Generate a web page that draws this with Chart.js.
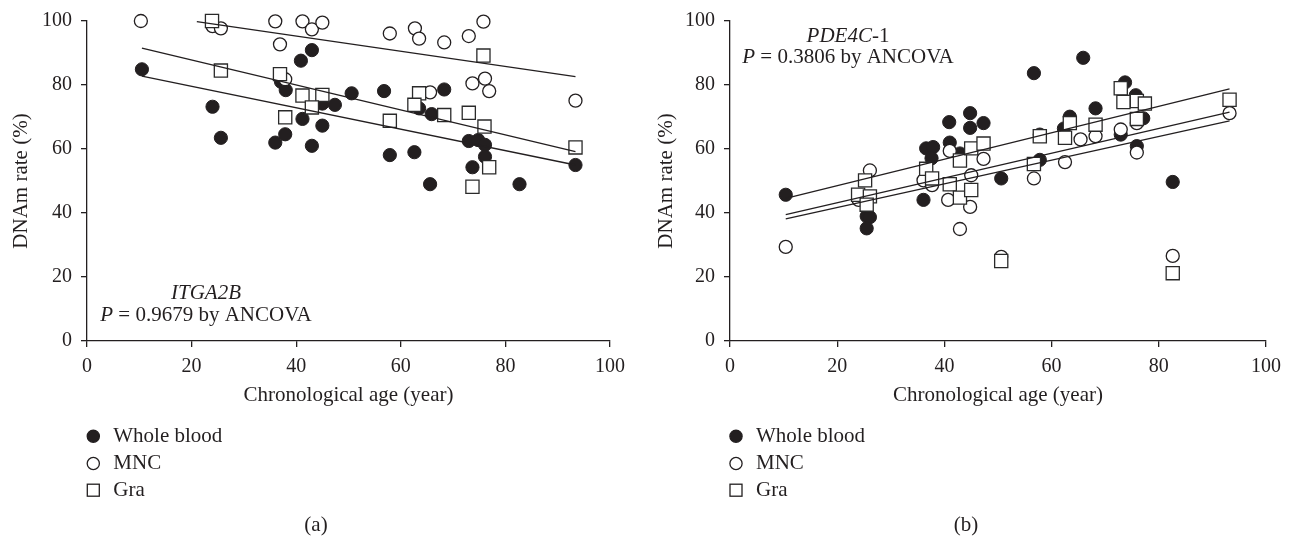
<!DOCTYPE html>
<html>
<head>
<meta charset="utf-8">
<script src="https://cdn.jsdelivr.net/npm/chart.js@4"></script>
<style>
  html, body { margin: 0; padding: 0; background: #fff; }
  #wrap { position: relative; width: 1289px; height: 541px; }
  .panel { position: absolute; top: 0; height: 541px; }
</style>
</head>
<body>
<div id="wrap">
  <div class="panel" style="left:0;width:645px"><canvas id="chartA" width="645" height="541"></canvas></div>
  <div class="panel" style="left:645px;width:644px"><canvas id="chartB" width="644" height="541"></canvas></div>
</div>
<script>
// (a) ITGA2B  -- [age, DNAm %]
const wholeBloodA = [[10.5,84.9],[24,73.2],[25.6,63.5],[36,62],[37.1,81],[38,78.4],[37.9,64.6],[40.9,87.6],[43,90.9],[41.2,69.4],[43,61],[45,67.3],[45,74.2],[47.4,73.8],[50.6,77.4],[56.8,78.1],[57.9,58.1],[62.6,59],[63.5,72.7],[65.9,70.9],[68.3,78.6],[65.6,49],[73,62.5],[74.8,62.8],[76.1,61.3],[76.1,57.6],[73.7,54.3],[82.7,49],[93.4,55]];
const mncA = [[10.3,100],[24,98.4],[25.6,97.7],[36,99.9],[36.9,92.7],[37.9,81.8],[41.2,99.9],[43,97.4],[45,99.5],[57.9,96.1],[62.7,97.7],[63.5,94.5],[65.6,77.7],[68.3,93.3],[73,95.3],[75.8,99.8],[73.7,80.5],[76.1,82],[76.9,78.1],[93.4,75.1]];
const graA = [[23.9,100],[25.6,84.5],[36.9,83.4],[37.9,69.9],[41.2,76.7],[45,76.9],[43,73],[57.9,68.8],[63.5,77.4],[62.6,73.8],[68.3,70.6],[75.8,89.2],[73,71.3],[76,67],[76.9,54.3],[73.7,48.2],[93.4,60.5]];
const fitWholeBloodA = [[10.5,82.8],[93.4,55]];
const fitMncA = [[21,99.8],[93.4,82.6]];
const fitGraA = [[10.5,91.5],[93.4,59.2]];

// (b) PDE4C-1
const wholeBloodB = [[10.4,45.7],[25.5,39],[26.1,38.7],[25.5,35.2],[36.1,44.1],[36.6,60.2],[37.9,60.6],[37.6,57.1],[40.9,68.4],[41,62],[42.9,58.6],[44.8,71.2],[44.8,66.6],[47.3,68.1],[50.6,50.8],[56.7,83.7],[57.8,64.5],[57.8,56.6],[63.4,70.1],[62.3,66.4],[68.2,72.7],[65.9,88.5],[73.7,80.8],[75.7,76.8],[77.1,69.6],[72.9,64.5],[75.9,60.9],[82.6,49.7]];
const mncB = [[10.4,29.4],[24,44.1],[26.1,53.3],[36.1,50.2],[37.7,48.7],[41,59.4],[40.7,44.1],[42.9,35],[44.8,41.9],[47.3,56.9],[45,51.8],[56.7,50.8],[62.5,55.9],[65.4,63],[68.2,64],[72.9,66.1],[75.9,68.1],[75.9,58.9],[50.6,26.3],[82.6,26.6],[93.2,71.2]];
const graB = [[23.9,45.7],[26.1,45.2],[25.5,42.6],[25.2,50.2],[36.6,53.8],[37.7,50.8],[42.9,56.4],[41,49],[42.9,44.8],[45,60.2],[47.3,61.7],[45,47.2],[57.8,64],[56.7,55.3],[63.4,68.1],[62.5,63.5],[68.2,67.6],[50.6,25],[72.9,79],[75.9,75],[73.4,74.7],[77.4,74.2],[75.9,69.4],[82.6,21.2],[93.2,75.4]];
const fitWholeBloodB = [[10.4,44.6],[93.2,78.8]];
const fitGraB = [[10.4,39.5],[93.2,71.5]];
const fitMncB = [[10.4,38.2],[93.2,68.8]];

const seriesNames = ['Whole blood', 'MNC', 'Gra'];
const xTitle = 'Chronological age (year)';
const yTitle = 'DNAm rate (%)';

const INK = '#231f20';
const FONT = '"Liberation Serif", "Times New Roman", serif';
const TXT = 21;
Chart.defaults.font.family = FONT;
Chart.defaults.font.size = 20;
Chart.defaults.color = INK;

const pts = arr => arr.map(([x, y]) => ({ x, y }));

const styles = [
  { pointStyle: 'circle', pointRadius: 6.6, backgroundColor: INK, borderColor: INK, borderWidth: 1 },
  { pointStyle: 'circle', pointRadius: 6.5, backgroundColor: '#fff', borderColor: INK, borderWidth: 1.3 },
  { pointStyle: 'rect', pointRadius: 9.3, backgroundColor: '#fff', borderColor: '#2a2a2a', borderWidth: 1.3 }
];

function drawMarker(ctx, kind, x, y) {
  ctx.save();
  ctx.strokeStyle = INK;
  ctx.lineWidth = 1.3;
  if (kind === 0 || kind === 1) {
    ctx.beginPath();
    ctx.arc(x, y, 6.1, 0, Math.PI * 2);
    ctx.fillStyle = kind === 0 ? INK : '#fff';
    ctx.fill();
    ctx.stroke();
  } else {
    ctx.fillStyle = '#fff';
    ctx.fillRect(x - 6, y - 6, 12, 12);
    ctx.strokeRect(x - 6, y - 6, 12, 12);
  }
  ctx.restore();
}

function drawRich(ctx, parts, cx, baseline) {
  let w = 0;
  parts.forEach(p => {
    ctx.font = (p.it ? 'italic ' : '') + TXT + 'px ' + FONT;
    p.w = ctx.measureText(p.t).width;
    w += p.w;
  });
  let x = cx - w / 2;
  parts.forEach(p => {
    ctx.font = (p.it ? 'italic ' : '') + TXT + 'px ' + FONT;
    ctx.fillText(p.t, x, baseline);
    x += p.w;
  });
}

const extras = {
  id: 'extras',
  afterDraw(chart, args, opts) {
    const ctx = chart.ctx;
    ctx.save();
    ctx.fillStyle = INK;
    ctx.textAlign = 'left';
    ctx.textBaseline = 'alphabetic';
    opts.notes.forEach(n => drawRich(ctx, n.parts, n.x, n.y));
    // legend
    seriesNames.forEach((name, i) => {
      drawMarker(ctx, i, opts.legendX, opts.legendY[i] - 5.5);
      ctx.font = TXT + 'px ' + FONT;
      ctx.fillText(name, opts.legendX + 20, opts.legendY[i]);
    });
    ctx.textAlign = 'center';
    ctx.fillText(opts.caption, opts.captionX, 531);
    ctx.restore();
  }
};

function makePanel(id, data, fits, p) {
  const datasets = [];
  fits.forEach(f => datasets.push({
    data: pts(f), showLine: true, pointRadius: 0, borderColor: INK, borderWidth: 1.3, order: 0, clip: false
  }));
  // draw order: squares on top, then open circles, then filled
  data.forEach((d, i) => datasets.push(Object.assign({
    label: seriesNames[i], data: pts(d), order: 3 - i, clip: false
  }, styles[i])));

  const axisCommon = {
    type: 'linear', min: 0, max: 100,
    border: { display: true, color: INK, width: 1.3 },
    grid: { drawOnChartArea: false, drawTicks: true, tickLength: 6, color: INK, lineWidth: 1.3 }
  };

  new Chart(document.getElementById(id), {
    type: 'scatter',
    data: { datasets },
    options: {
      responsive: false,
      animation: false,
      events: [],
      layout: { autoPadding: false, padding: { left: 0, top: p.top, right: p.right, bottom: 129 } },
      plugins: {
        legend: { display: false },
        tooltip: { enabled: false },
        extras: { notes: p.notes, legendX: p.legendX, legendY: [441.7, 469, 495.7], caption: p.caption, captionX: p.captionX }
      },
      scales: {
        x: Object.assign({}, axisCommon, {
          ticks: { stepSize: 20, padding: 8, maxRotation: 0 },
          title: { display: true, text: xTitle, font: { size: TXT }, padding: { top: 4, bottom: 4 } },
          afterFit(s) { s.height = 71; }
        }),
        y: Object.assign({}, axisCommon, {
          ticks: { stepSize: 20, padding: 9 },
          title: { display: true, text: yTitle, font: { size: TXT }, padding: { top: 9, bottom: 4 } },
          afterFit(s) { s.width = p.yw; }
        })
      }
    },
    plugins: [extras]
  });
}

makePanel('chartA', [wholeBloodA, mncA, graA], [fitWholeBloodA, fitMncA, fitGraA], {
  top: 21, right: 35, yw: 87, legendX: 93.3, caption: '(a)', captionX: 316,
  notes: [
    { parts: [{ t: 'ITGA2B', it: true }], x: 206, y: 299 },
    { parts: [{ t: 'P', it: true }, { t: ' = 0.9679 by ANCOVA' }], x: 206, y: 320.7 }
  ]
});

makePanel('chartB', [wholeBloodB, mncB, graB], [fitWholeBloodB, fitGraB, fitMncB], {
  top: 14, right: 23, yw: 85, legendX: 91, caption: '(b)', captionX: 321,
  notes: [
    { parts: [{ t: 'PDE4C', it: true }, { t: '-1' }], x: 203, y: 41.7 },
    { parts: [{ t: 'P', it: true }, { t: ' = 0.3806 by ANCOVA' }], x: 203, y: 63.3 }
  ]
});
</script>
</body>
</html>
